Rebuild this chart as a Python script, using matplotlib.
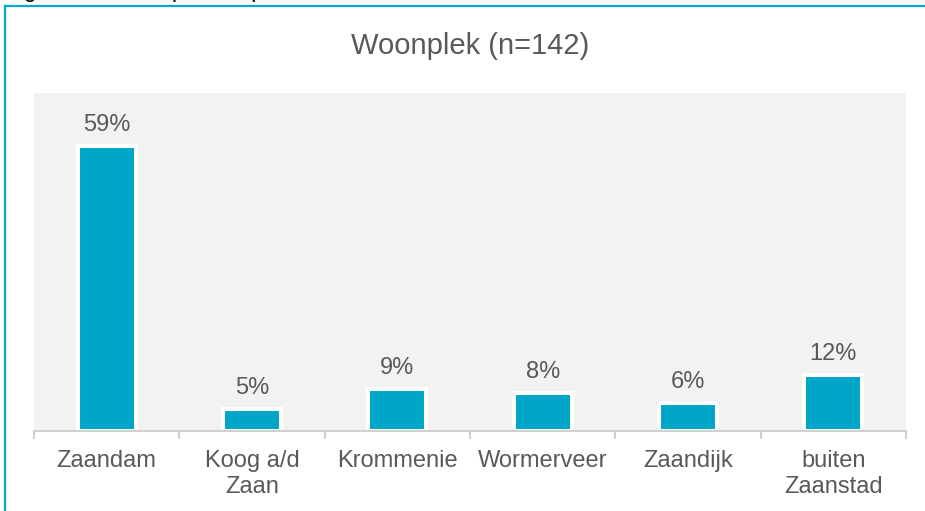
import matplotlib
matplotlib.use("Agg")
import matplotlib.pyplot as plt
from matplotlib.lines import Line2D

plt.rcParams['font.family'] = ['Liberation Sans', 'DejaVu Sans']

# data
places = ["Zaandam", "Koog a/d\nZaan", "Krommenie", "Wormerveer", "Zaandijk", "buiten\nZaanstad"]
shares = [59.2, 4.6, 8.7, 7.9, 5.8, 11.6]
title = "Woonplek (n=142)"
caption = "Figuur 12: Woonplek respondenten"

bar_color = "#00A6C8"
frame_color = "#00AACC"
text_color = "#595959"

W, H = 925, 511
fig = plt.figure(figsize=(W / 100, H / 100), dpi=100)
ax = fig.add_axes([34 / W, (H - 431) / H, (906 - 34) / W, (431 - 93) / H])
ax.set_facecolor("#F2F2F2")

x = range(len(places))
ax.bar(x, shares, width=0.4, color=bar_color, edgecolor="white", linewidth=2.9, zorder=2)

for xi, v in zip(x, shares):
    ax.annotate(f"{v:.0f}%", (xi, v), xytext=(0, 11), textcoords="offset points",
                ha="center", va="baseline", fontsize=17, color=text_color)

ax.set_xlim(-0.5, len(places) - 0.5)
ax.set_ylim(0, 70.2)
ax.set_yticks([])
ax.set_xticks(list(x))
ax.set_xticklabels(places, fontsize=17, color=text_color, linespacing=1.2)
ax.set_xticks([i - 0.5 for i in range(len(places) + 1)], minor=True)
ax.tick_params(axis="x", which="major", length=0, pad=14)
ax.tick_params(axis="x", which="minor", length=6, width=1.5, color="#D0D0D0")

for s in ["top", "left", "right"]:
    ax.spines[s].set_visible(False)
ax.spines["bottom"].set_color("#D0D0D0")
ax.spines["bottom"].set_linewidth(1.5)

fig.text(470 / W, 1 - 46 / H, title, ha="center", va="center", fontsize=21, color=text_color)

# caption above the frame, mostly cut off at the top edge
fig.text(5 / W, 1 + 3 / H, caption, ha="left", va="baseline", fontsize=16.3, color="black")

# teal frame (left and top sides visible)
fig.add_artist(Line2D([5 / W, 5 / W], [0, 1 - 6 / H], color=frame_color, linewidth=1.6,
                      transform=fig.transFigure))
fig.add_artist(Line2D([5 / W, 1], [1 - 6 / H, 1 - 6 / H], color=frame_color, linewidth=1.6,
                      transform=fig.transFigure))

fig.savefig("out.png", dpi=100)
